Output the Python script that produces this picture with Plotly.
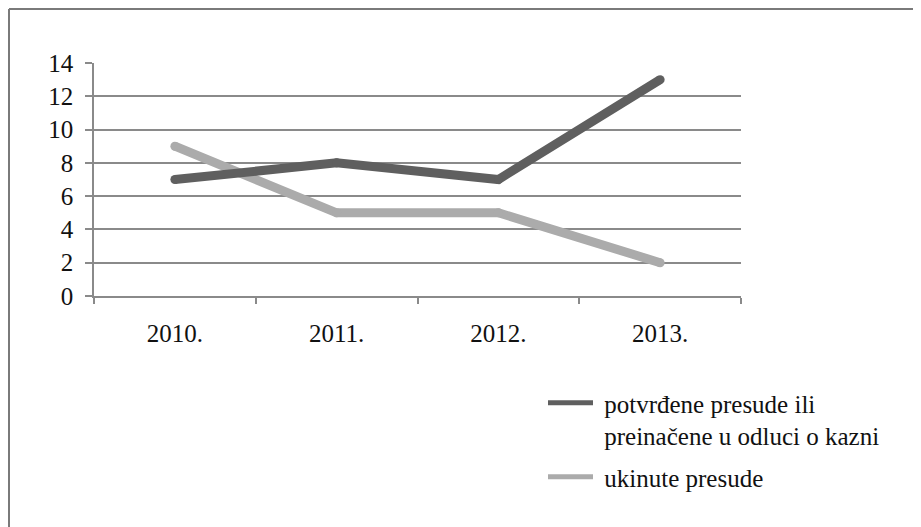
import plotly.graph_objects as go

categories = ["2010.", "2011.", "2012.", "2013."]
potvrdjene = [7, 8, 7, 13]
ukinute = [9, 5, 5, 2]
names = ["\u00a0potvrđene presude ili<br>\u00a0preinačene u odluci o kazni", "\u00a0ukinute presude"]
colors = ["#5f5f5f", "#ababab"]
y_ticks = [0, 2, 4, 6, 8, 10, 12, 14]

# page body has an 8px margin, so the figure is 8px smaller than the window
W, H = 913, 519
L, R, T, B = 86, 733, 55, 288
FONT = "Liberation Serif, Times New Roman, serif"
FS = 25

fig = go.Figure()
for vals, col in [(ukinute, colors[1]), (potvrdjene, colors[0])]:
    fig.add_trace(go.Scatter(x=categories, y=vals, mode="lines+markers",
                             line=dict(color=col, width=9),
                             marker=dict(color=col, size=9, line=dict(width=0)),
                             showlegend=False, hoverinfo="skip"))
for i, (nm, col) in enumerate(zip(names, colors)):
    fig.add_trace(go.Scatter(x=[None], y=[None], mode="lines", name=nm,
                             legendgroup=f"g{i}",
                             line=dict(color=col, width=5)))

def px2x(p):
    return (p - L) / (R - L)

def px2y(p):
    return (B - p) / (B - T)

fig.add_shape(type="line", xref="paper", yref="paper",
              x0=px2x(1), x1=px2x(925), y0=px2y(1), y1=px2y(1),
              line=dict(color="#7a7a7a", width=2))
fig.add_shape(type="line", xref="paper", yref="paper",
              x0=px2x(1), x1=px2x(1), y0=px2y(1), y1=px2y(530),
              line=dict(color="#7a7a7a", width=2))

fig.update_layout(
    width=W, height=H,
    margin=dict(l=L, r=W - R, t=T, b=H - B, pad=0, autoexpand=False),
    plot_bgcolor="white", paper_bgcolor="white",
    font=dict(family=FONT, size=FS, color="#111111"),
    legend=dict(x=px2x(535), y=px2y(372),
                xanchor="left", yanchor="top", traceorder="grouped",
                valign="top", tracegroupgap=6,
                font=dict(family=FONT, size=FS, color="#111111"),
                itemwidth=45, bgcolor="rgba(0,0,0,0)"),
    xaxis=dict(type="category", range=[-0.5, 3.5], showgrid=False, showline=True,
               linecolor="#8a8a8a", linewidth=1.5, ticks="outside",
               tickson="boundaries", ticklen=6, tickcolor="#8a8a8a", tickwidth=1.5,
               ticklabelstandoff=14, tickfont=dict(family=FONT, size=FS), zeroline=False),
    yaxis=dict(range=[0, 14], tickvals=y_ticks, showgrid=True, gridcolor="#8a8a8a",
               gridwidth=1.5, showline=True, linecolor="#8a8a8a", linewidth=1.5,
               ticks="outside", ticklen=7, tickcolor="#8a8a8a", tickwidth=1.5,
               ticklabelstandoff=7, tickfont=dict(family=FONT, size=FS), zeroline=False),
)

fig.write_html("out.html")
